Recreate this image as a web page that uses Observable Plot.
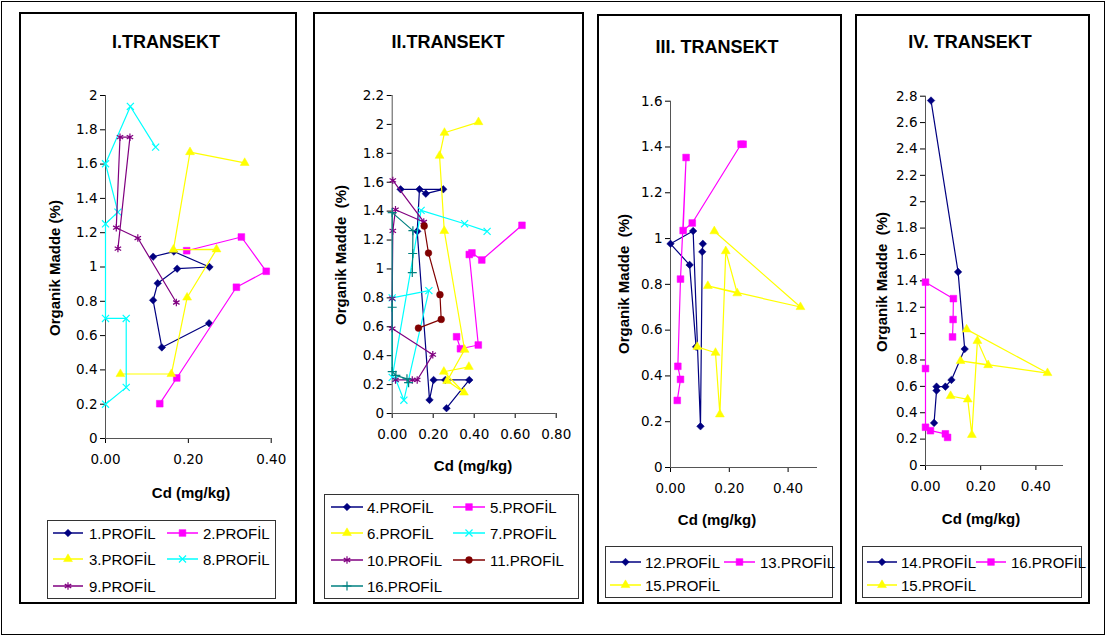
<!DOCTYPE html>
<html><head><meta charset="utf-8">
<script src="https://cdn.jsdelivr.net/npm/d3@7"></script>
<script src="https://cdn.jsdelivr.net/npm/@observablehq/plot@0.6"></script>
<style>
body{margin:0;background:#fff;}
#page{position:relative;width:1107px;height:638px;overflow:hidden;font-family:'Liberation Sans',Arial,sans-serif;}
#page svg text{font-size:13.5px !important;font-family:'DejaVu Sans',sans-serif !important;}
.abs{position:absolute;}
.frame{position:absolute;border:2px solid #000;box-sizing:border-box;}
.title{position:absolute;font-weight:bold;font-size:18px;transform:translate(-50%,-50%);white-space:pre;}
.xt{position:absolute;font-weight:bold;font-size:15px;transform:translate(-50%,-50%);white-space:pre;}
.yt{position:absolute;font-weight:bold;font-size:15px;transform:translate(-50%,-50%) rotate(-90deg);white-space:pre;}
.legend{position:absolute;border:1px solid #333;box-sizing:border-box;}
.lgtext{position:absolute;font-size:15px;transform:translateY(-50%);white-space:pre;}
</style>
</head><body><div id="page"></div>
<script>
// ---------- DATA (Cd mg/kg, Organik Madde %) ----------
// Panel I
const prof1_cd = [0.115, 0.165, 0.251, 0.173, 0.126, 0.115, 0.136, 0.250];
const prof1_om = [1.06, 1.09, 1.00, 0.99, 0.905, 0.806, 0.531, 0.672];
const prof2_cd = [0.196, 0.328, 0.388, 0.316, 0.172, 0.131];
const prof2_om = [1.095, 1.175, 0.975, 0.882, 0.353, 0.203];
const prof3_cd = [0.336, 0.204, 0.164, 0.268, 0.197, 0.159, 0.036];
const prof3_om = [1.607, 1.67, 1.101, 1.103, 0.822, 0.376, 0.376];
const prof8_cd = [0.121, 0.060, 0.000, 0.030, 0.000, 0.000, 0.050, 0.050, 0.000];
const prof8_om = [1.699, 1.936, 1.602, 1.32, 1.252, 0.70, 0.70, 0.298, 0.20];
const prof9_cd = [0.030, 0.059, 0.035, 0.026, 0.078, 0.171];
const prof9_om = [1.107, 1.757, 1.757, 1.229, 1.169, 0.793];
// Panel II
const prof4_cd = [0.041, 0.249, 0.164, 0.133, 0.122, 0.182, 0.202, 0.259, 0.376, 0.265];
const prof4_om = [1.551, 1.551, 1.521, 1.551, 1.26, 0.094, 0.232, 0.232, 0.232, 0.037];
const prof5_cd = [0.633, 0.437, 0.389, 0.376, 0.420, 0.333, 0.314];
const prof5_om = [1.302, 1.062, 1.111, 1.10, 0.474, 0.448, 0.531];
const prof6_cd = [0.421, 0.255, 0.231, 0.254, 0.353, 0.268, 0.350, 0.252, 0.374];
const prof6_om = [2.016, 1.942, 1.783, 1.263, 0.441, 0.226, 0.145, 0.289, 0.323];
const prof7_cd = [0.463, 0.353, 0.141, 0.000, 0.000, 0.179, 0.057, 0.016];
const prof7_om = [1.26, 1.313, 1.405, 0.25, 0.80, 0.85, 0.092, 0.24];
const prof10_cd = [0.003, 0.154, 0.016, 0.003, 0.000, 0.000, 0.198, 0.122, 0.098, 0.016];
const prof10_om = [1.613, 1.325, 1.41, 1.263, 0.795, 0.588, 0.407, 0.232, 0.232, 0.232];
const prof11_cd = [0.156, 0.177, 0.233, 0.239, 0.128];
const prof11_om = [1.297, 1.11, 0.822, 0.651, 0.591];
const prof16_cd = [0.098, 0.100, 0.101, 0.000, 0.000, 0.000, 0.018, 0.072, 0.080];
const prof16_om = [0.975, 1.107, 1.265, 1.39, 0.735, 0.29, 0.264, 0.24, 0.213];
// Panel III / IV
const prof12_cd = [0.087, 0.065, 0.000, 0.077, 0.102, 0.108, 0.110];
const prof12_om = [0.527, 0.885, 0.977, 1.033, 0.18, 0.942, 0.977];
const prof13_cd = [0.247, 0.240, 0.074, 0.043, 0.053, 0.034, 0.025, 0.034, 0.023];
const prof13_om = [1.412, 1.412, 1.068, 1.035, 1.354, 0.823, 0.442, 0.385, 0.293];
const prof15_cd = [0.149, 0.442, 0.127, 0.227, 0.188, 0.168, 0.153, 0.091];
const prof15_om = [1.032, 0.701, 0.793, 0.761, 0.945, 0.232, 0.501, 0.527];
const prof14_cd = [0.020, 0.118, 0.142, 0.094, 0.072, 0.040, 0.040, 0.031];
const prof14_om = [2.767, 1.468, 0.883, 0.649, 0.598, 0.598, 0.568, 0.323];

// tick values
const ticksI_y = [0,0.2,0.4,0.6,0.8,1,1.2,1.4,1.6,1.8,2];
const ticksII_y = [0,0.2,0.4,0.6,0.8,1,1.2,1.4,1.6,1.8,2,2.2];
const ticksIII_y = [0,0.2,0.4,0.6,0.8,1,1.2,1.4,1.6];
const ticksIV_y = [0,0.2,0.4,0.6,0.8,1,1.2,1.4,1.6,1.8,2,2.2,2.4,2.6,2.8];
const ticksI_x = [0,0.2,0.4];
const ticksII_x = [0,0.2,0.4,0.6,0.8];
const ticksIII_x = [0,0.2,0.4];

// ---------- STYLES / LAYOUT ----------
const NAVY="#000080", MAG="#FF00FF", YEL="#FFFF00", CYAN="#00FFFF", PURP="#800080", DRED="#800000", TEAL="#008080";
const SYM = {
  diamond2:{r:3.4, fill:true, d3:d3.symbolDiamond2},
  square:{r:3.8, fill:true, d3:d3.symbolSquare},
  triangle:{r:3.3, fill:true, d3:d3.symbolTriangle},
  times:{r:3.3, fill:false, d3:d3.symbolTimes || d3.symbolX},
  asterisk:{r:3.5, fill:false, d3:d3.symbolAsterisk},
  circle:{r:3.4, fill:true, d3:d3.symbolCircle},
  plus:{r:3.0, fill:false, d3:d3.symbolPlus}
};
function S(name, cd, om, color, symbol){ return {name, cd, om, color, symbol}; }

const panels = [
  { box:[19,12,297,604], title:"I.TRANSEKT", titlePos:[166,42],
    plot:{x0:105, x1:270.7, y0:438, y1:95}, xDomain:[0,0.4], yDomain:[0,2], xTicks:ticksI_x, yTicks:ticksI_y,
    yTitle:"Organik Madde (%)", yTitlePos:[54,268], xTitlePos:[191,492],
    series:[S("1.PROFİL",prof1_cd,prof1_om,NAVY,"diamond2"), S("2.PROFİL",prof2_cd,prof2_om,MAG,"square"),
            S("3.PROFİL",prof3_cd,prof3_om,YEL,"triangle"), S("8.PROFİL",prof8_cd,prof8_om,CYAN,"times"),
            S("9.PROFİL",prof9_cd,prof9_om,PURP,"asterisk")],
    legend:{box:[47,520,276,599], rows:[533,559,586], cols:[[53,83,89],[167,198,203]]} },
  { box:[313,12,584,604], title:"II.TRANSEKT", titlePos:[448,42],
    plot:{x0:391.7, x1:555.7, y0:413, y1:95}, xDomain:[0,0.8], yDomain:[0,2.2], xTicks:ticksII_x, yTicks:ticksII_y,
    yTitle:"Organik Madde  (%)", yTitlePos:[340,255], xTitlePos:[473,465],
    series:[S("4.PROFİL",prof4_cd,prof4_om,NAVY,"diamond2"), S("5.PROFİL",prof5_cd,prof5_om,MAG,"square"),
            S("6.PROFİL",prof6_cd,prof6_om,YEL,"triangle"), S("7.PROFİL",prof7_cd,prof7_om,CYAN,"times"),
            S("10.PROFİL",prof10_cd,prof10_om,PURP,"asterisk"), S("11.PROFİL",prof11_cd,prof11_om,DRED,"circle"),
            S("16.PROFİL",prof16_cd,prof16_om,TEAL,"plus")],
    legend:{box:[324,494,579,599], rows:[507,533,560,586], cols:[[331,363,367],[453,485,490]]} },
  { box:[597,14,842,604], title:"III. TRANSEKT", titlePos:[717,47],
    plot:{x0:670, x1:817, y0:467, y1:100.7}, xDomain:[0,0.5], yDomain:[0,1.6], xTicks:ticksIII_x, yTicks:ticksIII_y,
    yTitle:"Organik Madde  (%)", yTitlePos:[623,284], xTitlePos:[717,519],
    series:[S("12.PROFİL",prof12_cd,prof12_om,NAVY,"diamond2"), S("13.PROFİL",prof13_cd,prof13_om,MAG,"square"),
            S("15.PROFİL",prof15_cd,prof15_om,YEL,"triangle")],
    legend:{box:[605,546,833,598], rows:[562,585], cols:[[610,641,645],[724,755,760]]} },
  { box:[855,14,1090,604], title:"IV. TRANSEKT", titlePos:[970,42],
    plot:{x0:925, x1:1063, y0:465, y1:95.7}, xDomain:[0,0.5], yDomain:[0,2.8], xTicks:ticksIII_x, yTicks:ticksIV_y,
    yTitle:"Organik Madde  (%)", yTitlePos:[881,282], xTitlePos:[981,518],
    series:[S("14.PROFİL",prof14_cd,prof14_om,NAVY,"diamond2"), S("16.PROFİL",prof16_cd,prof16_om,MAG,"square"),
            S("15.PROFİL",prof15_cd,prof15_om,YEL,"triangle")],
    legend:{box:[862,546,1082,598], rows:[562,585], cols:[[867,897,901],[976,1006,1011]]} }
];

const W=1107, H=638;
const page = document.getElementById("page");
const FONT = "'DejaVu Sans', sans-serif";

function el(cls, txt, x, y){ const d=document.createElement("div"); d.className=cls; d.textContent=txt; d.style.left=x+"px"; d.style.top=y+"px"; page.appendChild(d); return d; }

// outer frame
const outer=document.createElement("div"); outer.className="abs";
Object.assign(outer.style,{left:"1px",top:"1px",width:"1104px",height:"634px",border:"1px solid #000",boxSizing:"border-box"});
page.appendChild(outer);

for (const p of panels) {
  const [bl,bt,br,bb]=p.box;
  const f=document.createElement("div"); f.className="frame";
  Object.assign(f.style,{left:bl+"px",top:bt+"px",width:(br-bl)+"px",height:(bb-bt)+"px"});
  page.appendChild(f);

  const marks = [
    Plot.ruleY([p.yDomain[0]], {stroke:"#555", strokeWidth:1}),
    Plot.ruleX([p.xDomain[0]], {stroke:"#555", strokeWidth:1})
  ];
  for (const s of p.series) {
    const rows = s.cd.map((c,i)=>({cd:c, om:s.om[i]}));
    const sy = SYM[s.symbol];
    marks.push(Plot.line(rows, {x:"cd", y:"om", stroke:s.color, strokeWidth:1.2}));
    marks.push(Plot.dot(rows, {x:"cd", y:"om", symbol:()=>s.symbol, r:sy.r,
      fill: sy.fill ? s.color : "none", stroke:s.color, strokeWidth: sy.fill ? 0.5 : 1.2}));
  }
  const svg = Plot.plot({
    width:W, height:H,
    marginLeft:p.plot.x0, marginRight:W-p.plot.x1, marginTop:p.plot.y1, marginBottom:H-p.plot.y0,
    x:{domain:p.xDomain, ticks:p.xTicks, tickFormat:d3.format(".2f"), tickSize:5, tickPadding:11, label:null},
    y:{domain:p.yDomain, ticks:p.yTicks, tickFormat:d=>d3.format("~g")(+d.toFixed(2)), tickSize:5, tickPadding:3, label:null},
    symbol:{type:"identity"},
    style:{background:"transparent", fontFamily:FONT, fontSize:"13.5px", color:"#000", overflow:"visible"},
    marks
  });
  svg.style.position="absolute"; svg.style.left="0px"; svg.style.top="0px"; svg.style.maxWidth="none";
  svg.querySelectorAll("text").forEach(t=>{ t.setAttribute("font-size","13.5"); t.style.fontSize="13.5px"; t.style.fontFamily=FONT; });
  svg.querySelectorAll("g").forEach(g=>{ if (g.getAttribute("font-size")) g.setAttribute("font-size","13.5"); });
  page.appendChild(svg);

  el("title", p.title, p.titlePos[0], p.titlePos[1]);
  el("xt", "Cd (mg/kg)", p.xTitlePos[0], p.xTitlePos[1]);
  el("yt", p.yTitle, p.yTitlePos[0], p.yTitlePos[1]);

  // legend
  const L=p.legend; const [lx0,ly0,lx1,ly1]=L.box;
  const lg=document.createElement("div"); lg.className="legend";
  Object.assign(lg.style,{left:lx0+"px",top:ly0+"px",width:(lx1-lx0)+"px",height:(ly1-ly0)+"px"});
  page.appendChild(lg);
  const lsvg = d3.create("svg").attr("width",W).attr("height",H)
     .style("position","absolute").style("left","0px").style("top","0px").style("pointer-events","none");
  p.series.forEach((s,i)=>{
    const row=L.rows[Math.floor(i/2)], col=L.cols[i%2];
    lsvg.append("line").attr("x1",col[0]).attr("x2",col[1]).attr("y1",row).attr("y2",row).attr("stroke",s.color).attr("stroke-width",1.5);
    const sy=SYM[s.symbol];
    lsvg.append("path").attr("transform",`translate(${(col[0]+col[1])/2},${row})`)
      .attr("d", d3.symbol(sy.d3, Math.PI*sy.r*sy.r)())
      .attr("fill", sy.fill? s.color : "none").attr("stroke", s.color).attr("stroke-width", sy.fill?0.5:1.2);
    el("lgtext", s.name, col[2], row);
  });
  page.appendChild(lsvg.node());
}
</script></body></html>
